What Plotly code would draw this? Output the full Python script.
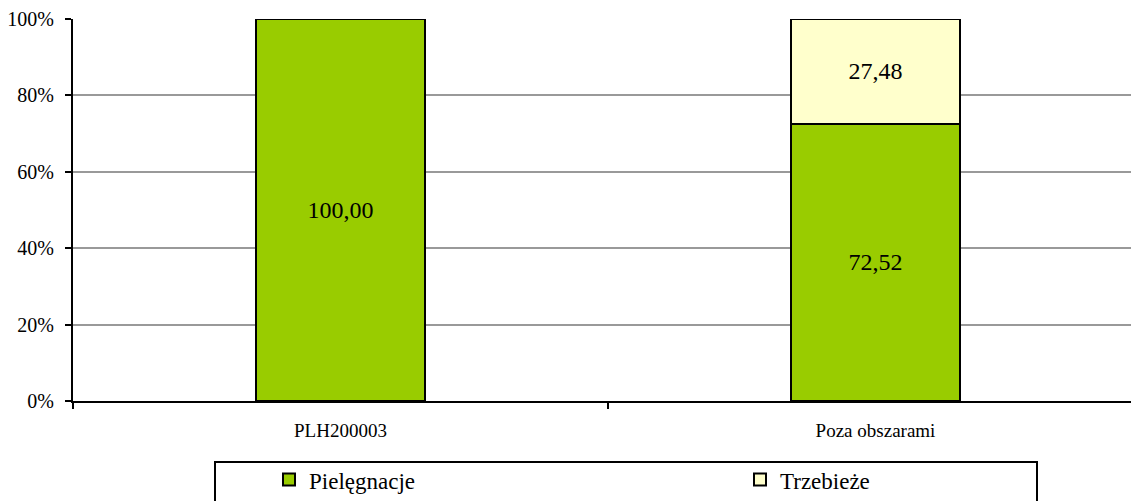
import plotly.graph_objects as go

categories = ["PLH200003", "Poza obszarami"]
pielegnacje = [100.00, 72.52]
trzebieze = [0.0, 27.48]
y_ticks = [0, 20, 40, 60, 80, 100]
y_tick_labels = [f"{v}%" for v in y_ticks]

x_pos = list(range(len(categories)))
serif = "Liberation Serif"


def fmt(v):
    return f"{v:.2f}".replace(".", ",") if v > 0 else ""


fig = go.Figure()
fig.add_trace(go.Bar(
    x=x_pos, y=pielegnacje, name="Pielęgnacje", legend="legend",
    marker=dict(color="#99CC00", line=dict(color="black", width=2)),
    width=0.315,
    text=[fmt(v) for v in pielegnacje],
    textposition="inside", insidetextanchor="middle", textangle=0,
    textfont=dict(family=serif, size=24, color="black"),
))
fig.add_trace(go.Bar(
    x=x_pos, y=trzebieze, name="Trzebieże", legend="legend2",
    marker=dict(color="#FFFFCC", line=dict(color="black", width=2)),
    width=0.315,
    text=[fmt(v) for v in trzebieze],
    textposition="inside", insidetextanchor="middle", textangle=0,
    textfont=dict(family=serif, size=24, color="black"),
))

# legend frame
fig.add_shape(
    type="rect", xref="paper", yref="paper",
    x0=(215 - 73) / 1058, x1=(1037 - 73) / 1058,
    y0=-0.40, y1=-(462 - 401) / 382,
    line=dict(color="black", width=2), fillcolor="rgba(0,0,0,0)",
    layer="above",
)

legend_common = dict(
    orientation="h", y=-0.1495, yanchor="top", xanchor="left",
    borderwidth=0, bgcolor="rgba(0,0,0,0)",
    font=dict(family=serif, size=23, color="black"),
)

fig.update_layout(
    barmode="stack",
    width=1131, height=501,
    margin=dict(l=73, r=0, t=19, b=100, autoexpand=False),
    plot_bgcolor="white", paper_bgcolor="white",
    font=dict(family=serif, color="black"),
    showlegend=True,
    legend=dict(x=(269 - 73) / 1058, **legend_common),
    legend2=dict(x=(740 - 73) / 1058, **legend_common),
    xaxis=dict(
        range=[-0.5, 1.4776],
        tickmode="array", tickvals=x_pos, ticktext=categories,
        ticks="", ticklabelstandoff=11,
        tickfont=dict(family=serif, size=19, color="black"),
        showgrid=False, zeroline=False,
        showline=True, linecolor="black", linewidth=2,
        minor=dict(tickmode="array", tickvals=[-0.5, 0.5, 1.5],
                   ticks="outside", ticklen=6, tickwidth=2, tickcolor="black",
                   showgrid=False),
    ),
    yaxis=dict(
        range=[0, 100],
        tickmode="array", tickvals=y_ticks, ticktext=y_tick_labels,
        ticks="outside", ticklen=6, tickwidth=2, tickcolor="black",
        ticklabelstandoff=7,
        tickfont=dict(family=serif, size=20, color="black"),
        showgrid=True, gridcolor="#999999", gridwidth=2,
        zeroline=False,
        showline=True, linecolor="black", linewidth=2,
    ),
)

fig.write_html("out.html")
